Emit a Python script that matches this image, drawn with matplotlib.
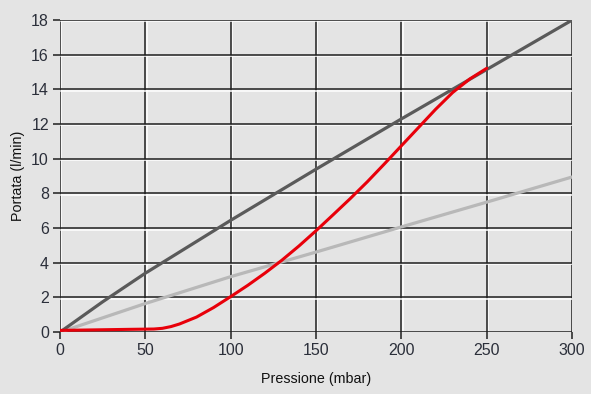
import matplotlib
matplotlib.use("Agg")
import matplotlib.pyplot as plt
import matplotlib.patheffects as pe

plt.rcParams['font.family'] = ['Liberation Sans', 'DejaVu Sans']

# data
p_dark = [0, 25, 50, 100, 150, 200, 250, 300]
q_dark = [0, 1.75, 3.4, 6.45, 9.4, 12.3, 15.15, 18.0]

p_light = [0, 50, 100, 150, 200, 250, 300]
q_light = [0, 1.65, 3.2, 4.62, 6.07, 7.5, 8.95]

p_red = [0, 20, 40, 55, 60, 65, 70, 80, 90, 100, 110, 120, 130, 140, 150,
         160, 170, 180, 190, 200, 210, 220, 230, 240, 250]
q_red = [0.1, 0.13, 0.16, 0.18, 0.22, 0.32, 0.47, 0.87, 1.42, 2.05, 2.7, 3.4, 4.15, 4.97, 5.85,
         6.77, 7.7, 8.67, 9.7, 10.75, 11.8, 12.85, 13.82, 14.6, 15.22]

x_ticks = [0, 50, 100, 150, 200, 250, 300]
y_ticks = [0, 2, 4, 6, 8, 10, 12, 14, 16, 18]

bg = '#e4e4e4'
fig = plt.figure(figsize=(5.91, 3.94), dpi=100, facecolor=bg)
ax = fig.add_axes([0.1015, 0.157, 0.8665, 0.792])
ax.set_facecolor(bg)

ax.set_xlim(0, 300)
ax.set_ylim(0, 18)
ax.set_xticks(x_ticks)
ax.set_yticks(y_ticks)

# grid with a white highlight under each line
shadow = [pe.SimpleLineShadow(offset=(1, -1), shadow_color='white', alpha=1), pe.Normal()]
ax.grid(True, color='#1e1e1e', linewidth=1.1)
for gl in ax.get_xgridlines() + ax.get_ygridlines():
    gl.set_path_effects(shadow)
ax.set_axisbelow(True)

for s in ax.spines.values():
    s.set_visible(False)

ax.tick_params(direction='out', length=5, width=1.1, color='#1e1e1e',
               labelsize=11.5, labelcolor='#2b2f3a', pad=3)

ax.plot(p_light, q_light, color='#b8b8b8', linewidth=2.3, solid_capstyle='round', zorder=3)
ax.plot(p_dark, q_dark, color='#5a5a5a', linewidth=2.3, solid_capstyle='round', zorder=4)
ax.plot(p_red, q_red, color='#e8000a', linewidth=2.2, solid_capstyle='round',
        solid_joinstyle='round', zorder=5)

ax.set_xlabel('Pressione (mbar)', fontsize=10.3, color='#111111', labelpad=10)
ax.set_ylabel('Portata (l/min)', fontsize=10.3, color='#111111', labelpad=4)

fig.savefig('out.png', dpi=100, facecolor=bg)
